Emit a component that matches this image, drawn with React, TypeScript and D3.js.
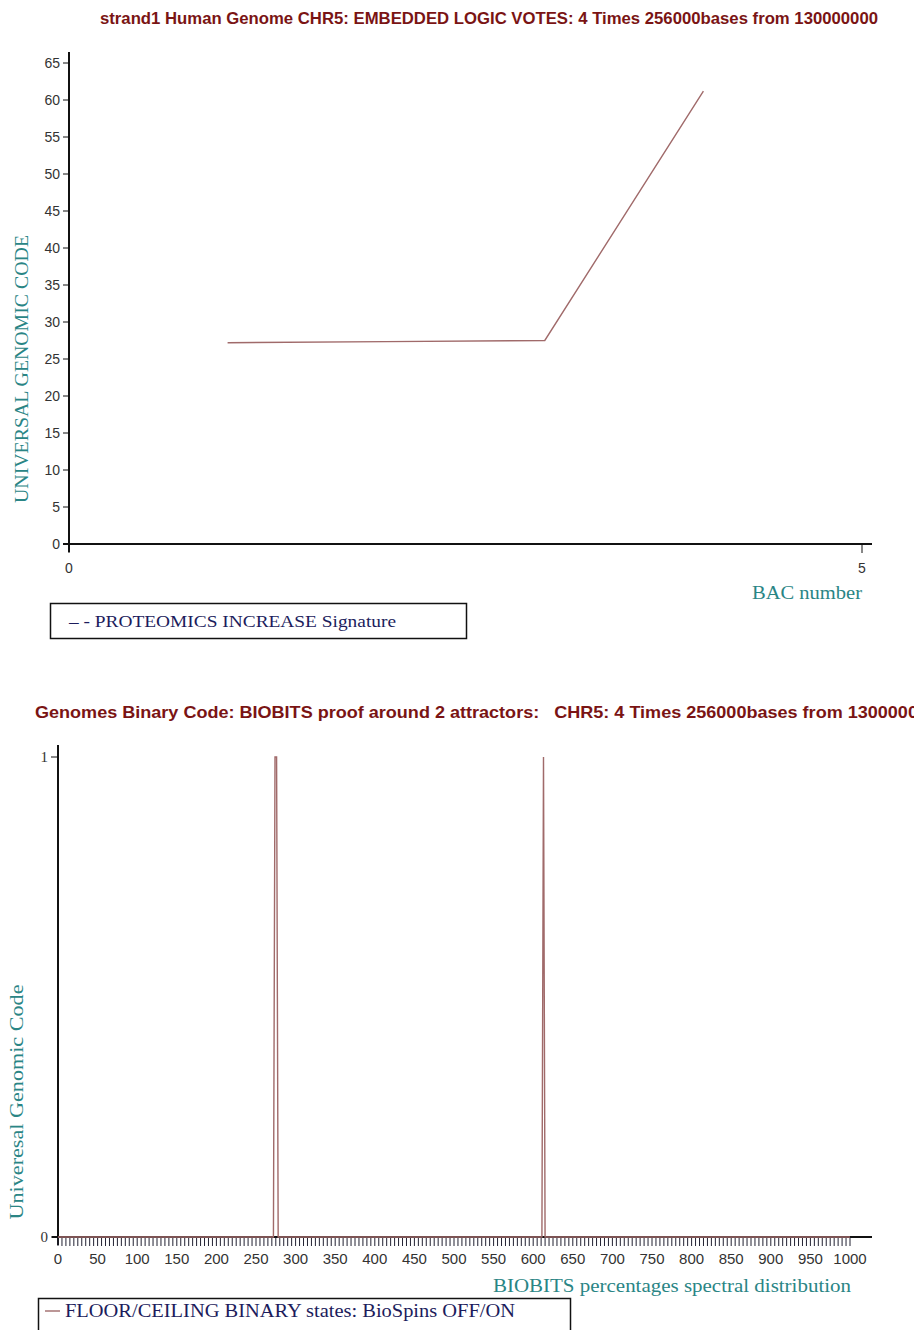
import React, { useEffect, useRef } from "react";
import * as d3 from "d3";

// ---- Top chart data ----
const bacNumbers = [1, 2, 3, 4];
const proteomicsValues = [27.2, 27.35, 27.5, 61.2];
const topYTicks = [0, 5, 10, 15, 20, 25, 30, 35, 40, 45, 50, 55, 60, 65];
const topXTicks = [0, 5];

// ---- Bottom chart data ----
const biobitsX = [0, 272, 273, 274, 276, 277, 278, 611, 612, 613, 614, 615, 1000];
const biobitsY = [0, 0, 0.5, 1, 1, 0.5, 0, 0, 0.5, 1, 0.5, 0, 0];
const bottomYTicks = [0, 1];
const bottomXLabels = d3.range(0, 1001, 50);
const bottomXMinor = d3.range(0, 1001, 5);

const TITLE1 = "strand1 Human Genome CHR5: EMBEDDED LOGIC VOTES: 4 Times 256000bases from 130000000";
const TITLE2 = "Genomes Binary Code: BIOBITS proof around 2 attractors:   CHR5: 4 Times 256000bases from 130000000";

const MAROON = "#7a1414";
const TEAL = "#2a8585";
const NAVY = "#1c1c5c";
const LINE = "#a06a6a";
const SERIF = "Liberation Serif, Times New Roman, serif";
const SANS = "Liberation Sans, Arial, sans-serif";
const NARROW = "Liberation Sans Narrow, Arial Narrow, sans-serif";

export default function App() {
  const ref = useRef<SVGSVGElement | null>(null);

  useEffect(() => {
    const svg = d3.select(ref.current);
    svg.selectAll("*").remove();

    // ================= TOP CHART =================
    const x1 = d3.scaleLinear().domain([0, 5]).range([69, 862]);
    const y1 = d3.scaleLinear().domain([0, 65]).range([544, 63]);

    svg.append("text")
      .attr("x", 100).attr("y", 24)
      .attr("textLength", 778).attr("lengthAdjust", "spacingAndGlyphs")
      .attr("font-family", NARROW)
      .attr("font-weight", "bold").attr("font-size", 16.5)
      .attr("fill", MAROON).text(TITLE1);

    svg.append("line").attr("x1", 69).attr("x2", 69).attr("y1", 52).attr("y2", 552)
      .attr("stroke", "#111").attr("stroke-width", 2);
    svg.append("line").attr("x1", 63).attr("x2", 872).attr("y1", 544).attr("y2", 544)
      .attr("stroke", "#111").attr("stroke-width", 2);

    topYTicks.forEach((t) => {
      svg.append("line").attr("x1", 63).attr("x2", 69).attr("y1", y1(t)).attr("y2", y1(t))
        .attr("stroke", "#111").attr("stroke-width", 1);
      svg.append("text").attr("x", 60).attr("y", y1(t) + 5)
        .attr("text-anchor", "end").attr("font-family", SANS)
        .attr("font-size", 14).attr("fill", "#333").text(String(t));
    });
    topXTicks.forEach((t) => {
      svg.append("line").attr("x1", x1(t)).attr("x2", x1(t)).attr("y1", 544).attr("y2", 553)
        .attr("stroke", "#111").attr("stroke-width", 1);
      svg.append("text").attr("x", x1(t)).attr("y", 573)
        .attr("text-anchor", "middle").attr("font-family", SANS)
        .attr("font-size", 14).attr("fill", "#333").text(String(t));
    });

    const line1 = d3.line<number>().x((d, i) => x1(bacNumbers[i])).y((d) => y1(d));
    svg.append("path").attr("d", line1(proteomicsValues) as string)
      .attr("fill", "none").attr("stroke", LINE).attr("stroke-width", 1.4);

    svg.append("text")
      .attr("transform", `translate(28,369) rotate(-90)`)
      .attr("text-anchor", "middle").attr("font-family", SERIF)
      .attr("textLength", 268).attr("lengthAdjust", "spacingAndGlyphs")
      .attr("font-size", 19).attr("fill", TEAL).text("UNIVERSAL GENOMIC CODE");

    svg.append("text").attr("x", 862).attr("y", 599).attr("text-anchor", "end")
      .attr("font-family", SERIF)
      .attr("textLength", 110).attr("lengthAdjust", "spacingAndGlyphs")
      .attr("font-size", 19).attr("fill", TEAL).text("BAC number");

    svg.append("rect").attr("x", 50.5).attr("y", 603.5).attr("width", 416).attr("height", 35)
      .attr("fill", "white").attr("stroke", "#111").attr("stroke-width", 1.5);
    svg.append("text").attr("x", 69).attr("y", 627)
      .attr("font-family", SERIF)
      .attr("textLength", 327).attr("lengthAdjust", "spacingAndGlyphs")
      .attr("font-size", 17).attr("fill", NAVY).text("– - PROTEOMICS INCREASE Signature");

    // ================= BOTTOM CHART =================
    const x2 = d3.scaleLinear().domain([0, 1000]).range([58, 850]);
    const y2 = d3.scaleLinear().domain([0, 1]).range([1237, 757]);

    svg.append("text")
      .attr("x", 35).attr("y", 718)
      .attr("xml:space", "preserve").style("white-space", "pre")
      .attr("textLength", 903).attr("lengthAdjust", "spacingAndGlyphs")
      .attr("font-family", NARROW)
      .attr("font-weight", "bold").attr("font-size", 16.5)
      .attr("fill", MAROON).text(TITLE2);

    svg.append("line").attr("x1", 58).attr("x2", 58).attr("y1", 745).attr("y2", 1245)
      .attr("stroke", "#111").attr("stroke-width", 2);
    svg.append("line").attr("x1", 52).attr("x2", 872).attr("y1", 1237).attr("y2", 1237)
      .attr("stroke", "#111").attr("stroke-width", 2);

    bottomYTicks.forEach((t) => {
      svg.append("line").attr("x1", 51).attr("x2", 58).attr("y1", y2(t)).attr("y2", y2(t))
        .attr("stroke", "#111").attr("stroke-width", 1);
      svg.append("text").attr("x", 48).attr("y", y2(t) + 5)
        .attr("text-anchor", "end").attr("font-family", SERIF)
        .attr("font-size", 15).attr("fill", "#333").text(String(t));
    });

    bottomXMinor.forEach((t) => {
      svg.append("line").attr("x1", x2(t)).attr("x2", x2(t)).attr("y1", 1237).attr("y2", 1246)
        .attr("stroke", "#223").attr("stroke-width", 1);
    });
    bottomXLabels.forEach((t) => {
      svg.append("text").attr("x", x2(t)).attr("y", 1264)
        .attr("text-anchor", "middle").attr("font-family", NARROW)
        .attr("font-size", 15).attr("fill", "#333").text(String(t));
    });

    const line2 = d3.line<number>().x((d, i) => x2(biobitsX[i])).y((d) => y2(d));
    svg.append("path").attr("d", line2(biobitsY) as string)
      .attr("fill", "none").attr("stroke", LINE).attr("stroke-width", 1.4);

    svg.append("text")
      .attr("transform", `translate(23,1102) rotate(-90)`)
      .attr("text-anchor", "middle").attr("font-family", SERIF)
      .attr("textLength", 235).attr("lengthAdjust", "spacingAndGlyphs")
      .attr("font-size", 19).attr("fill", TEAL).text("Univeresal Genomic Code");

    svg.append("text").attr("x", 851).attr("y", 1292).attr("text-anchor", "end")
      .attr("font-family", SERIF)
      .attr("textLength", 358).attr("lengthAdjust", "spacingAndGlyphs")
      .attr("font-size", 19).attr("fill", TEAL).text("BIOBITS percentages spectral distribution");

    svg.append("rect").attr("x", 38.5).attr("y", 1298.5).attr("width", 532).attr("height", 40)
      .attr("fill", "white").attr("stroke", "#111").attr("stroke-width", 1.5);
    svg.append("line").attr("x1", 45).attr("x2", 60).attr("y1", 1311).attr("y2", 1311)
      .attr("stroke", LINE).attr("stroke-width", 1.4);
    svg.append("text").attr("x", 65).attr("y", 1317)
      .attr("font-family", SERIF)
      .attr("textLength", 450).attr("lengthAdjust", "spacingAndGlyphs")
      .attr("font-size", 18).attr("fill", NAVY).text("FLOOR/CEILING BINARY states: BioSpins OFF/ON");
  }, []);

  return (
    <svg ref={ref} width={914} height={1330}
      style={{ position: "absolute", left: 0, top: 0, background: "white" }} />
  );
}
